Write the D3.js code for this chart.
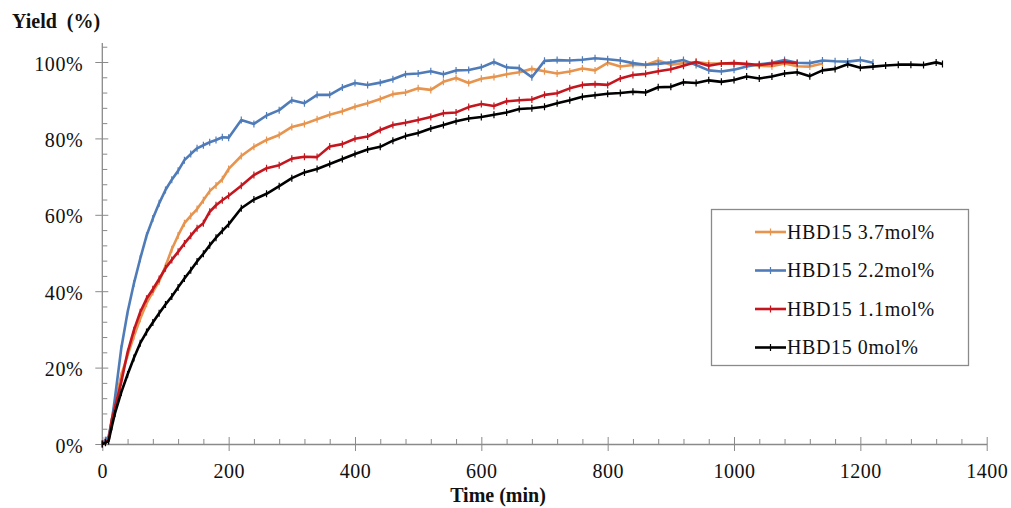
<!DOCTYPE html>
<html>
<head>
<meta charset="utf-8">
<script src="https://cdn.jsdelivr.net/npm/d3@7"></script>
<style>
  body { margin: 0; background: #fff; }
  text { font-family: "Liberation Serif", "Times New Roman", serif; fill: #111; }
</style>
</head>
<body>
<div class="canvas"></div>
<script>
// sampling times (min), shared by all series
const timeMin = [0, 5, 10, 15, 20,
  30, 40, 50, 60, 70, 80, 90, 100, 110, 120, 130, 140, 150, 160, 170, 180, 190, 200,
  220, 240, 260, 280, 300, 320, 340, 360, 380, 400, 420, 440, 460, 480, 500, 520, 540, 560, 580, 600,
  620, 640, 660, 680, 700, 720, 740, 760, 780, 800, 820, 840, 860, 880, 900, 920, 940, 960, 980, 1000,
  1020, 1040, 1060, 1080, 1100, 1120, 1140, 1160, 1180, 1200, 1220, 1240, 1260, 1280, 1300, 1320,
  1330];

// yield (%) per series
const yield37 = [0, 1, 1.5, 6.5, 10.5,
  18, 23.2, 28.2, 32.8, 36.8, 39.8, 42.6, 46.5, 51, 54.6, 57.8, 59.7, 61.5, 63.8, 66.2, 67.7, 69.3, 72,
  75.4, 77.8, 79.6, 80.9, 83, 83.8, 85, 86.2, 87.1, 88.3,
  89.2, 90.3, 91.6, 92, 93.1, 92.7, 94.8, 95.8, 94.5, 95.6,
  96.1, 96.8, 97.3, 98.2, 97.6, 97, 97.5, 98.3, 97.8, 99.8,
  98.8, 99.2, 99.2, 100.4, 99.3, 99.7, 100, 99.6, 99.6, 99.7,
  99.3, 99, 98.9, 99.6, 98.9, 98.8, 99.6];

const yield22 = [0, 1, 2, 6, 12,
  25, 34.5, 42, 48.5, 54.5, 59, 63, 66.5, 69.2, 71.5, 74.3, 75.9, 77.4, 78.2, 79, 79.6, 80.3, 80.2,
  84.8, 83.8, 86, 87.4, 90, 89.2, 91.4, 91.4, 93.3, 94.5,
  94, 94.6, 95.5, 96.8, 97, 97.6, 96.8, 97.8, 97.9, 98.6,
  100, 98.6, 98.4, 96, 100.3, 100.5, 100.4, 100.6, 101, 100.7,
  100.4, 99.7, 99.3, 99.5, 99.9, 100.5, 99.2, 97.8, 97.5, 98,
  98.8, 99.4, 99.8, 100.5, 99.8, 99.7, 100.4, 100.2, 100.1, 100.5,
  99.8];

const yield11 = [0, 0.5, 1, 6.3, 9.5,
  16.2, 24, 29.8, 34.5, 38, 40.5, 43.2, 46, 48.2, 50.3, 52.5, 54.5, 56.5, 57.8, 60.8, 62.5, 63.8, 65,
  67.6, 70.4, 72.2, 73, 74.7, 75.2, 75.1, 77.9, 78.5, 79.9,
  80.5, 82.2, 83.5, 84.1, 84.8, 85.6, 86.6, 86.8, 88.2, 89,
  88.5, 89.7, 90, 90.2, 91.4, 91.8, 93.1, 94, 94.2, 94,
  95.7, 96.6, 96.9, 97.6, 98.1, 99, 100, 99, 99.6, 99.7,
  99.5, 99.2, 99.6, 100, 99.7];

const yield0 = [0, 0.3, 0.8, 4.5, 8,
  13.5, 18.2, 22.5, 26.4, 29.3, 31.8, 34.2, 36.5, 38.6, 41, 43.3, 45.5, 47.8, 49.8, 52, 54, 55.8, 57.5,
  61.7, 64, 65.5, 67.5, 69.6, 71.1, 72, 73.3, 74.6, 75.9,
  77.1, 77.8, 79.4, 80.6, 81.4, 82.6, 83.5, 84.5, 85.2, 85.6,
  86.2, 86.8, 87.7, 87.9, 88.3, 89.2, 90, 90.9, 91.3, 91.7,
  91.9, 92.2, 92, 93.4, 93.5, 94.7, 94.5, 95.2, 94.8, 95.3,
  96.2, 95.7, 96.2, 97, 97.3, 96.3, 97.8, 98.2, 99.4, 98.5,
  98.8, 99.1, 99.3, 99.3, 99.2, 99.9,
  99.5];

const seriesNames = ["HBD15 3.7mol%", "HBD15 2.2mol%", "HBD15 1.1mol%", "HBD15 0mol%"];
const seriesValues = [yield37, yield22, yield11, yield0];
const seriesColors = ["#E6944E", "#4F7CB8", "#C3161F", "#000000"];

const xTicks = [0, 200, 400, 600, 800, 1000, 1200, 1400];
const yTicks = [0, 20, 40, 60, 80, 100];

// svg + plot frame
const svg = d3.select(".canvas")
              .append("svg")
              .attr("width", 1011)
              .attr("height", 508);

const x = d3.scaleLinear()
            .domain([0, 1400])
            .range([102.3, 986.7]);

const y = d3.scaleLinear()
            .domain([0, 100])
            .range([444, 62]);

const axisColor = "#8a8a8a";

// x axis: minor ticks first, then majors crossing the line
const xMinor = d3.range(0, 1401, 40).filter(d => d % 200 !== 0);
svg.append("g")
   .attr("transform", `translate(0,${y(0)})`)
   .call(d3.axisBottom(x).tickValues(xMinor).tickSize(-5).tickFormat(""))
   .call(g => g.select(".domain").remove())
   .call(g => g.selectAll("line").attr("stroke", axisColor));

const xAxis = svg.append("g")
   .attr("transform", `translate(0,${y(0)})`)
   .call(d3.axisBottom(x).tickValues(xTicks).tickSizeOuter(0).tickFormat(d3.format("d")));
xAxis.select(".domain").attr("stroke", axisColor).attr("stroke-width", 1.3);
xAxis.selectAll(".tick line").attr("stroke", axisColor).attr("y1", -7).attr("y2", 7);
xAxis.selectAll(".tick text")
     .attr("y", 34).attr("dy", 0)
     .attr("font-size", 20).attr("letter-spacing", 0.5).attr("fill", "#111");

// y axis
const yMinor = d3.range(0, 105, 4).filter(d => d % 20 !== 0);
svg.append("g")
   .attr("transform", `translate(${x(0)},0)`)
   .call(d3.axisLeft(y).tickValues(yMinor).tickSize(-5).tickFormat(""))
   .call(g => g.select(".domain").remove())
   .call(g => g.selectAll("line").attr("stroke", axisColor));

const yAxis = svg.append("g")
   .attr("transform", `translate(${x(0)},0)`)
   .call(d3.axisLeft(y).tickValues(yTicks).tickSizeOuter(0).tickFormat(d => d + "%"));
yAxis.select(".domain").attr("d", `M0,${y(0)}V${y(105)}`).attr("stroke", axisColor).attr("stroke-width", 1.3);
yAxis.selectAll(".tick line").attr("stroke", axisColor).attr("x1", 6).attr("x2", -7);
yAxis.selectAll(".tick text")
     .attr("x", -19).attr("dy", "0.4em")
     .attr("font-size", 20).attr("letter-spacing", 0.6).attr("fill", "#111");

// axis titles
svg.append("text")
   .attr("x", 12).attr("y", 28)
   .attr("font-size", 20).attr("font-weight", "bold")
   .attr("xml:space", "preserve")
   .text("Yield  (%)");

svg.append("text")
   .attr("x", 498).attr("y", 502)
   .attr("text-anchor", "middle")
   .attr("font-size", 20).attr("font-weight", "bold")
   .text("Time (min)");

// series lines with small + markers
const line = d3.line()
               .x(d => x(d.t))
               .y(d => y(d.v));

seriesValues.forEach((vals, i) => {
  const pts = vals.map((v, k) => ({t: timeMin[k], v: v}));
  svg.append("path")
     .datum(pts)
     .attr("fill", "none")
     .attr("stroke", seriesColors[i])
     .attr("stroke-width", 2.6)
     .attr("stroke-linejoin", "round")
     .attr("d", line);
  svg.append("path")
     .attr("fill", "none")
     .attr("stroke", seriesColors[i])
     .attr("stroke-width", 1.2)
     .attr("d", pts.map(p => `M${x(p.t)},${y(p.v) - 3.5}V${y(p.v) + 3.5}`).join(""));
});

// legend
const legend = svg.append("g");
legend.append("rect")
      .attr("x", 711.5).attr("y", 209.5)
      .attr("width", 257).attr("height", 156)
      .attr("fill", "#fff")
      .attr("stroke", axisColor).attr("stroke-width", 1.3);

seriesNames.forEach((name, i) => {
  const ly = 232 + i * 38.5;
  legend.append("line")
        .attr("x1", 755).attr("x2", 786)
        .attr("y1", ly).attr("y2", ly)
        .attr("stroke", seriesColors[i]).attr("stroke-width", 2.6);
  legend.append("line")
        .attr("x1", 770.5).attr("x2", 770.5)
        .attr("y1", ly - 3.5).attr("y2", ly + 3.5)
        .attr("stroke", seriesColors[i]).attr("stroke-width", 1.2);
  legend.append("text")
        .attr("x", 787).attr("y", ly + 6.5)
        .attr("font-size", 20)
        .attr("letter-spacing", 0.6)
        .text(name);
});
</script>
</body>
</html>
